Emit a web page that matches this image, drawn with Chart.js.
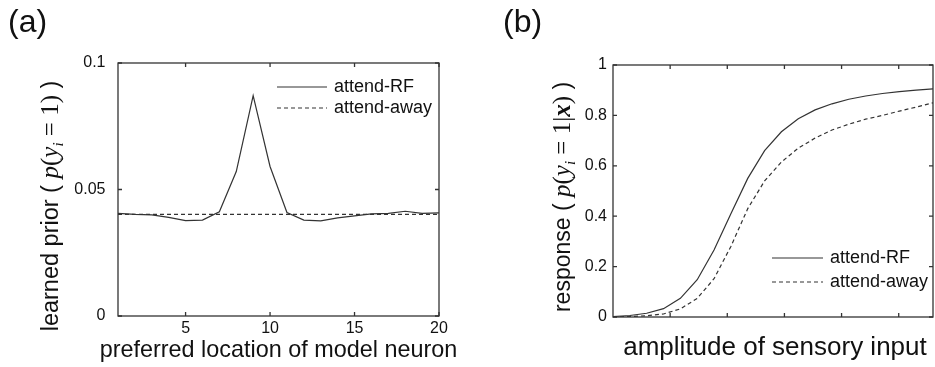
<!DOCTYPE html>
<html>
<head>
<meta charset="utf-8">
<script src="https://cdn.jsdelivr.net/npm/chart.js@4/dist/chart.umd.min.js"></script>
<style>
body { margin: 0; background: #fff; }
#wrap { position: relative; width: 935px; height: 367px; }
canvas { position: absolute; top: 0; }
#cA { left: 0; }
#cB { left: 470px; }
</style>
</head>
<body>
<div id="wrap">
	<canvas id="cA" width="470" height="367"></canvas>
	<canvas id="cB" width="465" height="367"></canvas>
</div>
<script>
// (a) 學到的 prior，每個 model neuron 一個值
var neuronIdx = [1, 2, 3, 4, 5, 6, 7, 8, 9, 10, 11, 12, 13, 14, 15, 16, 17, 18, 19, 20];
var priorRF = [0.0406, 0.0402, 0.0400, 0.0390, 0.0377, 0.0379, 0.0412, 0.0571, 0.0871, 0.0591,
	0.0409, 0.0379, 0.0376, 0.0388, 0.0396, 0.0404, 0.0406, 0.0414, 0.0406, 0.0408];
var priorAway = [0.0402, 0.0402, 0.0402, 0.0402, 0.0402, 0.0402, 0.0402, 0.0402, 0.0402, 0.0402,
	0.0402, 0.0402, 0.0402, 0.0402, 0.0402, 0.0402, 0.0402, 0.0402, 0.0402, 0.0402];
var priorTicksX = [5, 10, 15, 20];
var priorTicksY = [0, 0.05, 0.1];
var priorLabelsY = ['0', '0.05', '0.1'];

// (b) response vs. amplitude
var amplitude = [0, 0.295, 0.589, 0.884, 1.179, 1.474, 1.768, 2.063, 2.358, 2.653,
	2.947, 3.242, 3.537, 3.832, 4.126, 4.421, 4.716, 5.011, 5.305, 5.6];
var respRF = [0.002, 0.006, 0.015, 0.033, 0.074, 0.148, 0.266, 0.41, 0.55, 0.66,
	0.735, 0.787, 0.822, 0.846, 0.864, 0.877, 0.887, 0.894, 0.9, 0.905];
var respAway = [0, 0.002, 0.005, 0.012, 0.032, 0.074, 0.152, 0.28, 0.43, 0.54,
	0.615, 0.67, 0.71, 0.742, 0.765, 0.785, 0.8, 0.817, 0.833, 0.85];
var ampTicks = [1, 2, 3, 4, 5];
var respTicksY = [0, 0.2, 0.4, 0.6, 0.8, 1];
var respLabelsY = ['0', '0.2', '0.4', '0.6', '0.8', '1'];

var seriesNames = ['attend-RF', 'attend-away'];
var ink = '#333';
var sans = '"Liberation Sans", Arial, sans-serif';
var serif = '"Liberation Serif", "Times New Roman", serif';

function toPoints(xs, ys){
	return xs.map((x, i) => ({x: x, y: ys[i]}));
}

// 外框 + 朝內的刻度線 (MATLAB 風格)
var boxTicks = {
	id: 'boxTicks',
	afterDatasetsDraw(chart){
		var ctx = chart.ctx;
		var a = chart.chartArea;
		var xs = chart.scales.x;
		var ys = chart.scales.y;
		var len = 4;
		ctx.save();
		ctx.strokeStyle = ink;
		ctx.lineWidth = 1.3;
		ctx.setLineDash([]);
		ctx.strokeRect(a.left, a.top, a.right - a.left, a.bottom - a.top);
		ctx.beginPath();
		xs.ticks.forEach(t => {
			var px = xs.getPixelForValue(t.value);
			ctx.moveTo(px, a.bottom); ctx.lineTo(px, a.bottom - len);
			ctx.moveTo(px, a.top); ctx.lineTo(px, a.top + len);
		});
		ys.ticks.forEach(t => {
			var py = ys.getPixelForValue(t.value);
			ctx.moveTo(a.left, py); ctx.lineTo(a.left + len, py);
			ctx.moveTo(a.right, py); ctx.lineTo(a.right - len, py);
		});
		ctx.stroke();
		ctx.restore();
	}
};

// 圖例、面板標籤、x 軸標題、含數學式的 y 軸標題
var figText = {
	id: 'figText',
	afterDraw(chart, args, opts){
		var ctx = chart.ctx;
		var a = chart.chartArea;
		ctx.save();
		ctx.fillStyle = '#111';
		ctx.textBaseline = 'alphabetic';
		ctx.textAlign = 'left';

		ctx.font = '32px ' + sans;
		ctx.fillText(opts.tag, opts.tagX, opts.tagY);

		// x title (自己畫，Chart.js 的 title 會被 maxWidth 壓扁)
		ctx.font = opts.xTitle.size + 'px ' + sans;
		ctx.textAlign = 'center';
		ctx.fillText(opts.xTitle.text, (a.left + a.right) / 2 + (opts.xTitle.dx || 0), opts.xTitle.y);
		ctx.textAlign = 'left';

		// legend
		var lg = opts.legend;
		chart.data.datasets.forEach((ds, i) => {
			var y = lg.y + i * lg.step;
			ctx.strokeStyle = ds.borderColor;
			ctx.lineWidth = ds.borderWidth;
			ctx.setLineDash(ds.borderDash || []);
			ctx.beginPath();
			ctx.moveTo(lg.x, y);
			ctx.lineTo(lg.x + lg.len, y);
			ctx.stroke();
			ctx.setLineDash([]);
			ctx.font = lg.size + 'px ' + sans;
			ctx.textBaseline = 'middle';
			ctx.fillText(ds.label, lg.x + lg.len + lg.gap, y);
		});

		// rotated y title
		var yt = opts.yTitle;
		ctx.textBaseline = 'alphabetic';
		var total = 0;
		yt.segs.forEach(s => { ctx.font = s.f; total += ctx.measureText(s.t).width; });
		ctx.translate(yt.x, yt.cy);
		ctx.rotate(-Math.PI / 2);
		var cx = -total / 2;
		yt.segs.forEach(s => {
			ctx.font = s.f;
			ctx.fillText(s.t, cx, s.dy || 0);
			cx += ctx.measureText(s.t).width;
		});
		ctx.restore();
	}
};

function baseScales(o){
	return {
		x: {
			type: 'linear', min: o.xMin, max: o.xMax,
			afterBuildTicks: s => { s.ticks = o.xTicks.map(v => ({value: v})); },
			afterFit: s => { s.height = o.xHeight; s.paddingLeft = 0; s.paddingRight = 0; },
			grid: {display: false, drawTicks: false},
			border: {display: false},
			ticks: {
				display: o.xLabels, padding: 3, color: '#111',
				font: {family: sans, size: o.tickSize},
				callback: v => String(v),
			},
		},
		y: {
			type: 'linear', min: o.yMin, max: o.yMax,
			afterBuildTicks: s => { s.ticks = o.yTicks.map(v => ({value: v})); },
			afterFit: s => { s.width = o.yWidth; s.paddingTop = 0; s.paddingBottom = 0; },
			grid: {display: false, drawTicks: false},
			border: {display: false},
			ticks: {
				padding: o.yPad, color: '#111',
				font: {family: sans, size: o.tickSize},
				callback: (v, i) => o.yLabels[i],
			},
		},
	};
}

function lineSet(label, pts, dash){
	return {
		label: label,
		data: pts,
		showLine: true,
		borderColor: ink,
		borderWidth: 1.2,
		borderDash: dash,
		pointRadius: 0,
		tension: 0,
		fill: false,
	};
}

Chart.defaults.font.family = sans;

new Chart(document.getElementById('cA'), {
	type: 'scatter',
	data: {
		datasets: [
			lineSet(seriesNames[0], toPoints(neuronIdx, priorRF), []),
			lineSet(seriesNames[1], toPoints(neuronIdx, priorAway), [4, 3]),
		],
	},
	options: {
		responsive: false,
		animation: false,
		devicePixelRatio: 1,
		layout: {padding: {left: 0, top: 63, right: 31, bottom: 0}},
		scales: baseScales({
			xMin: 1, xMax: 20, xTicks: priorTicksX, xLabels: true, xHeight: 51,
			yMin: 0, yMax: 0.1, yTicks: priorTicksY, yLabels: priorLabelsY,
			yWidth: 118, yPad: 12.5, tickSize: 16,
		}),
		plugins: {
			legend: {display: false},
			tooltip: {enabled: false},
			figText: {
				tag: '(a)', tagX: 8, tagY: 32,
				xTitle: {text: 'preferred location of model neuron', size: 23.4, y: 357},
				legend: {x: 277, y: 87, step: 21, len: 50, gap: 7, size: 18},
				yTitle: {
					x: 58, cy: 206,
					segs: [
						{t: 'learned prior ( ', f: '23.5px ' + sans},
						{t: 'p', f: 'italic 25px ' + serif},
						{t: '(', f: '25px ' + serif},
						{t: 'y', f: 'italic 25px ' + serif},
						{t: 'i', f: 'italic 15px ' + serif, dy: 5},
						{t: ' = 1', f: '25px ' + serif},
						{t: ')', f: '25px ' + serif},
						{t: ' )', f: '23.5px ' + sans},
					],
				},
			},
		},
	},
	plugins: [boxTicks, figText],
});

new Chart(document.getElementById('cB'), {
	type: 'scatter',
	data: {
		datasets: [
			lineSet(seriesNames[0], toPoints(amplitude, respRF), []),
			lineSet(seriesNames[1], toPoints(amplitude, respAway), [4, 3]),
		],
	},
	options: {
		responsive: false,
		animation: false,
		devicePixelRatio: 1,
		layout: {padding: {left: 0, top: 65, right: 2, bottom: 0}},
		scales: baseScales({
			xMin: 0, xMax: 5.6, xTicks: ampTicks, xLabels: false, xHeight: 50,
			yMin: 0, yMax: 1, yTicks: respTicksY, yLabels: respLabelsY,
			yWidth: 143, yPad: 6, tickSize: 16,
		}),
		plugins: {
			legend: {display: false},
			tooltip: {enabled: false},
			figText: {
				tag: '(b)', tagX: 33, tagY: 32,
				xTitle: {text: 'amplitude of sensory input', size: 26, y: 355, dx: 2},
				legend: {x: 302, y: 258, step: 24, len: 51, gap: 7, size: 18},
				yTitle: {
					x: 100, cy: 197,
					segs: [
						{t: 'response ( ', f: '23px ' + sans},
						{t: 'p', f: 'italic 25px ' + serif},
						{t: '(', f: '25px ' + serif},
						{t: 'y', f: 'italic 25px ' + serif},
						{t: 'i', f: 'italic 15px ' + serif, dy: 5},
						{t: ' = 1', f: '25px ' + serif},
						{t: '|', f: '25px ' + serif},
						{t: 'x', f: 'italic bold 25px ' + serif},
						{t: ')', f: '25px ' + serif},
						{t: ' )', f: '23px ' + sans},
					],
				},
			},
		},
	},
	plugins: [boxTicks, figText],
});
</script>
</body>
</html>
